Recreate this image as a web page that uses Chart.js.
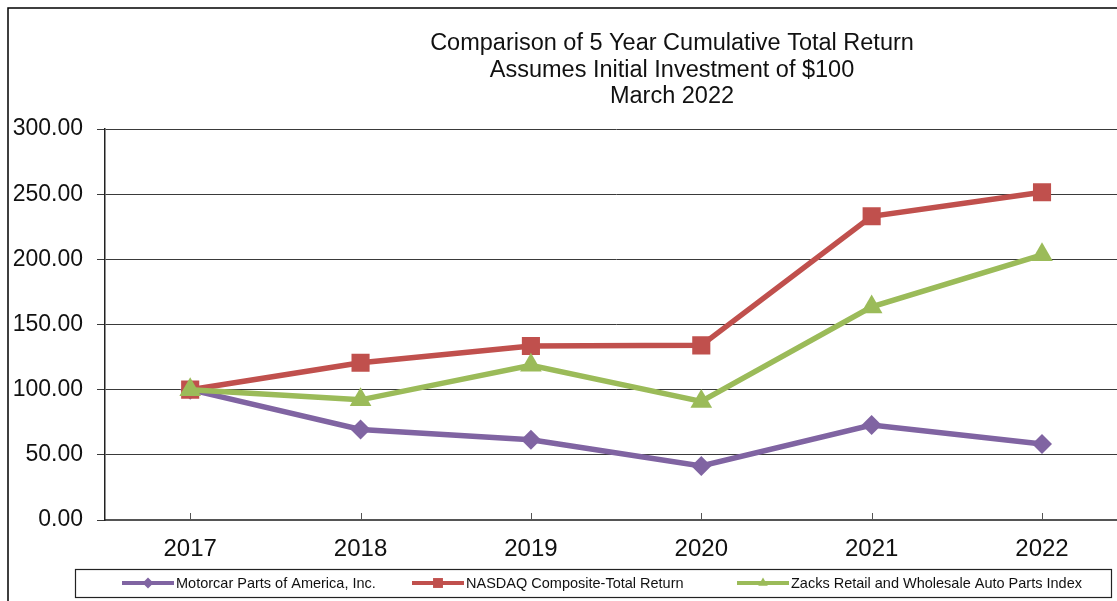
<!DOCTYPE html>
<html>
<head>
<meta charset="utf-8">
<script src="https://cdn.jsdelivr.net/npm/chart.js@4/dist/chart.umd.min.js"></script>
<style>
html,body{margin:0;padding:0;background:#fff;overflow:hidden;width:1117px;height:601px;}
#wrap{position:absolute;left:0;top:0;width:1140px;height:601px;}
</style>
</head>
<body>
<div id="wrap"><canvas id="c" width="1140" height="601"></canvas></div>
<script>
const titleLines = ['Comparison of 5 Year Cumulative Total Return', 'Assumes Initial Investment of $100', 'March 2022'];
const years = ['2017', '2018', '2019', '2020', '2021', '2022'];
const seriesNames = ['Motorcar Parts of America, Inc.', 'NASDAQ Composite-Total Return', 'Zacks Retail and Wholesale Auto Parts Index'];
const motorcar = [100, 69.5, 61.6, 41.5, 72.9, 58.3];
const nasdaq = [100, 120.6, 133.5, 134.0, 233.0, 251.5];
const zacks = [100, 92.2, 118.7, 91.0, 163.5, 203.5];
const yTicks = [0, 50, 100, 150, 200, 250, 300];

const colors = ['#8064A2', '#C0504D', '#9BBB59'];
const styles = ['rectRot', 'rect', 'triangle'];
const radii = [10, 12.8, 12.5];
const FONT = "'Liberation Sans', Arial, sans-serif";

const frame = {
  id: 'frame',
  beforeDraw(chart) {
    const ctx = chart.ctx;
    ctx.save();
    ctx.fillStyle = '#fff';
    ctx.fillRect(0, 0, chart.width, chart.height);
    ctx.strokeStyle = '#000';
    ctx.lineWidth = 1.5;
    ctx.strokeRect(8, 8, chart.width + 20, chart.height + 20);
    ctx.restore();
  },
  afterDraw(chart) {
    const ctx = chart.ctx;
    ctx.save();
    // title
    ctx.fillStyle = '#111';
    ctx.font = '23.5px ' + FONT;
    ctx.textAlign = 'center';
    ctx.textBaseline = 'middle';
    const ty = [44, 71, 97];
    titleLines.forEach((t, i) => ctx.fillText(t, 672, ty[i]));
    // inside x ticks
    const xs = chart.scales.x;
    const bottom = chart.chartArea.bottom;
    ctx.strokeStyle = '#555';
    ctx.lineWidth = 1;
    years.forEach((y, i) => {
      const px = Math.round(xs.getPixelForTick(i)) + 0.5;
      ctx.beginPath();
      ctx.moveTo(px, bottom - 7);
      ctx.lineTo(px, bottom);
      ctx.stroke();
    });
    // legend box
    ctx.strokeStyle = '#222';
    ctx.lineWidth = 1.2;
    ctx.strokeRect(75.5, 569.5, 1036, 28);
    const lx = [122, 412, 737];
    ctx.font = '14.5px ' + FONT;
    ctx.textAlign = 'left';
    ctx.fillStyle = '#111';
    chart.data.datasets.forEach((ds, i) => {
      const x0 = lx[i], yy = 583;
      ctx.strokeStyle = ds.borderColor;
      ctx.lineWidth = 4;
      ctx.beginPath();
      ctx.moveTo(x0, yy);
      ctx.lineTo(x0 + 52, yy);
      ctx.stroke();
      ctx.fillStyle = ds.borderColor;
      ctx.strokeStyle = ds.borderColor;
      Chart.helpers.drawPoint(ctx, {pointStyle: ds.pointStyle, rotation: 0, borderWidth: 0, radius: ds.pointStyle === 'rect' ? 7 : 5.5}, x0 + 26, yy);
      ctx.fillStyle = '#111';
      ctx.fillText(ds.label, x0 + 54, yy + 1);
    });
    ctx.restore();
  }
};

const datasets = [motorcar, nasdaq, zacks].map((d, i) => ({
  label: seriesNames[i],
  data: d,
  borderColor: colors[i],
  backgroundColor: colors[i],
  borderWidth: 5.5,
  pointStyle: styles[i],
  pointRadius: radii[i],
  pointHoverRadius: radii[i],
  pointBorderWidth: 0,
  pointBackgroundColor: colors[i],
  tension: 0,
  order: 2 - i
}));

new Chart(document.getElementById('c'), {
  type: 'line',
  data: { labels: years, datasets },
  options: {
    responsive: false,
    animation: false,
    events: [],
    layout: { padding: { left: 0, top: 129, right: 5, bottom: 0 } },
    plugins: { legend: { display: false }, title: { display: false }, tooltip: { enabled: false } },
    scales: {
      x: {
        offset: true,
        grid: { display: false, drawTicks: false, offset: true },
        border: { display: true, color: '#555', width: 2 },
        ticks: { color: '#111', font: { family: FONT, size: 24 }, padding: 15, maxRotation: 0 },
        afterFit(s) { s.height = 81; }
      },
      y: {
        min: 0, max: 300,
        afterBuildTicks(s) { s.ticks = yTicks.map(v => ({ value: v })); },
        grid: { color: '#3a3a3a', lineWidth: 1, tickLength: 8, drawTicks: true },
        border: { display: true, color: '#222', width: 1.5 },
        ticks: { color: '#111', font: { family: FONT, size: 23 }, padding: 14, callback: v => v.toFixed(2) },
        afterFit(s) { s.width = 105; }
      }
    }
  },
  plugins: [frame]
});
</script>
</body>
</html>
